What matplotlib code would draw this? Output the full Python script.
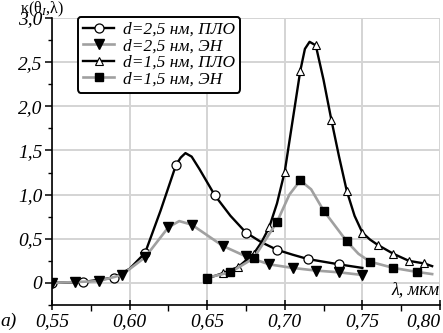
import numpy as np
import matplotlib
matplotlib.use("Agg")
import matplotlib.pyplot as plt
from matplotlib.ticker import MultipleLocator

# --- dane ---
# d = 2,5 нм, ПЛО (czarna linia, puste kółka)
x1 = [0.55, 0.57, 0.59, 0.60, 0.61, 0.62, 0.63, 0.633, 0.636, 0.64, 0.645, 0.655,
      0.665, 0.675, 0.685, 0.695, 0.705, 0.715, 0.725, 0.735, 0.75]
y1 = [0.0, 0.01, 0.06, 0.16, 0.34, 0.82, 1.34, 1.42, 1.47, 1.43, 1.29, 0.99,
      0.76, 0.57, 0.46, 0.375, 0.32, 0.27, 0.24, 0.21, 0.17]
m1 = [0.55, 0.57, 0.59, 0.61, 0.63, 0.655, 0.675, 0.695, 0.715, 0.735]

# d = 2,5 нм, ЭН (szara linia, pełne trójkąty w dół)
x2 = [0.55, 0.565, 0.58, 0.595, 0.61, 0.625, 0.632, 0.64, 0.65, 0.66, 0.675,
      0.69, 0.705, 0.72, 0.735, 0.75]
y2 = [0.0, 0.01, 0.02, 0.09, 0.29, 0.63, 0.70, 0.66, 0.54, 0.42, 0.30,
      0.21, 0.17, 0.14, 0.12, 0.09]
m2 = [0.55, 0.565, 0.58, 0.595, 0.61, 0.625, 0.64, 0.66, 0.675, 0.69, 0.705,
      0.72, 0.735, 0.75]

# d = 1,5 нм, ПЛО (czarna linia, puste trójkąty)
x3 = [0.65, 0.66, 0.67, 0.68, 0.685, 0.69, 0.695, 0.70, 0.705, 0.71, 0.713,
      0.716, 0.72, 0.725, 0.73, 0.735, 0.74, 0.745, 0.75, 0.755, 0.76, 0.77,
      0.78, 0.79, 0.795]
y3 = [0.05, 0.11, 0.18, 0.33, 0.46, 0.63, 0.90, 1.26, 1.83, 2.40, 2.65,
      2.73, 2.69, 2.30, 1.85, 1.43, 1.04, 0.76, 0.57, 0.49, 0.43, 0.33,
      0.25, 0.22, 0.19]
m3 = [0.65, 0.66, 0.67, 0.68, 0.69, 0.70, 0.71, 0.72, 0.73, 0.74, 0.75, 0.76,
      0.77, 0.78, 0.79]

# d = 1,5 нм, ЭН (szara linia, pełne kwadraty)
x4 = [0.65, 0.665, 0.68, 0.695, 0.703, 0.71, 0.717, 0.725, 0.74, 0.7475,
      0.755, 0.77, 0.785, 0.795]
y4 = [0.06, 0.12, 0.28, 0.69, 1.00, 1.16, 1.06, 0.82, 0.47, 0.33,
      0.24, 0.17, 0.125, 0.10]
m4 = [0.65, 0.665, 0.68, 0.695, 0.71, 0.725, 0.74, 0.755, 0.77, 0.785]

labels = ["d=2,5 нм, ПЛО", "d=2,5 нм, ЭН", "d=1,5 нм, ПЛО", "d=1,5 нм, ЭН"]

# osie: podziałka i podpisy (przecinek dziesiętny)
xticks = [0.55, 0.60, 0.65, 0.70, 0.75, 0.80]
xtick_labels = ["0,55", "0,60", "0,65", "0,70", "0,75", "0,80"]
yticks = [0, 0.5, 1.0, 1.5, 2.0, 2.5, 3.0]
ytick_labels = ["0", "0,5", "1,0", "1,5", "2,0", "2,5", "3,0"]

plt.rcParams['font.family'] = ['Liberation Serif', 'DejaVu Serif']
plt.rcParams['font.style'] = 'italic'
plt.rcParams['mathtext.fontset'] = 'custom'
plt.rcParams['mathtext.rm'] = 'Liberation Serif'
plt.rcParams['mathtext.it'] = 'Liberation Serif:italic'

GRAY = '#a0a0a0'

fig = plt.figure(figsize=(4.43, 3.33), dpi=100)
ax = fig.add_axes([0.1174, 0.0841, 0.8756, 0.8619])


def marks(xs, ms):
    # indeksy punktów, na których stoją znaczniki
    return [i for i, x in enumerate(xs) if any(abs(x - m) < 1e-6 for m in ms)]


ax.plot(x1, y1, color='black', lw=1.7, marker='o', ms=6.5, mfc='white',
        mec='black', mew=0.9, markevery=marks(x1, m1), label=labels[0], zorder=3)
ax.plot(x2, y2, color=GRAY, lw=1.9, marker='v', ms=6.5, mfc='black',
        mec='black', markevery=marks(x2, m2), label=labels[1], zorder=3)
ax.plot(x3, y3, color='black', lw=1.7, marker='^', ms=6, mfc='white',
        mec='black', mew=0.8, markevery=marks(x3, m3), label=labels[2], zorder=3)
ax.plot(x4, y4, color=GRAY, lw=1.9, marker='s', ms=5.5, mfc='black',
        mec='black', markevery=marks(x4, m4), label=labels[3], zorder=3)

ax.set_xlim(0.55, 0.80)
ax.set_ylim(-0.25, 3.0)

ax.set_xticks(xticks)
ax.set_xticklabels(xtick_labels)
ax.set_yticks(yticks)
ax.set_yticklabels(ytick_labels)
ax.xaxis.set_minor_locator(MultipleLocator(0.025))
ax.yaxis.set_minor_locator(MultipleLocator(0.25))

ax.tick_params(axis='x', which='major', direction='inout', length=7, width=1.1,
               pad=2, labelsize=14)
ax.tick_params(axis='x', which='minor', direction='out', length=4, width=1.0)
ax.tick_params(axis='y', which='major', direction='out', length=5, width=1.1,
               pad=2, labelsize=14)
ax.tick_params(axis='y', which='minor', direction='out', length=3, width=1.0)

# ostatni podpis osi x dosunięty do prawej krawędzi
ax.get_xticklabels()[-1].set_horizontalalignment('right')
# podpisy osi y lekko niżej, jak w oryginale
for lab in ax.get_yticklabels():
    lab.set_verticalalignment('center_baseline')

ax.grid(True, which='major', color='#d4d4d4', lw=1.4, zorder=0)
ax.set_axisbelow(True)

for side in ['top', 'right']:
    ax.spines[side].set_visible(False)
for side in ['left', 'bottom']:
    ax.spines[side].set_linewidth(1.2)

leg = ax.legend(loc='upper left', bbox_to_anchor=(0.067, 1.005), borderaxespad=0,
                prop={'style': 'italic', 'size': 12.5}, handlelength=1.8,
                handletextpad=0.5, labelspacing=0.02, borderpad=0.3,
                fancybox=True, framealpha=1, edgecolor='black')
leg.get_frame().set_linewidth(1.4)

# podpisy osi
fig.text(0.045, 1.0, r'κ(θ$_{I}$,λ)', fontsize=11.5, fontstyle='normal',
         va='top', ha='left')
ax.text(1.0, 0.052, 'λ, мкм', transform=ax.transAxes, fontsize=13,
        ha='right', va='center')
fig.text(0.0, 0.035, 'а)', fontsize=14, va='center', ha='left')

fig.savefig('out.png', dpi=100)
